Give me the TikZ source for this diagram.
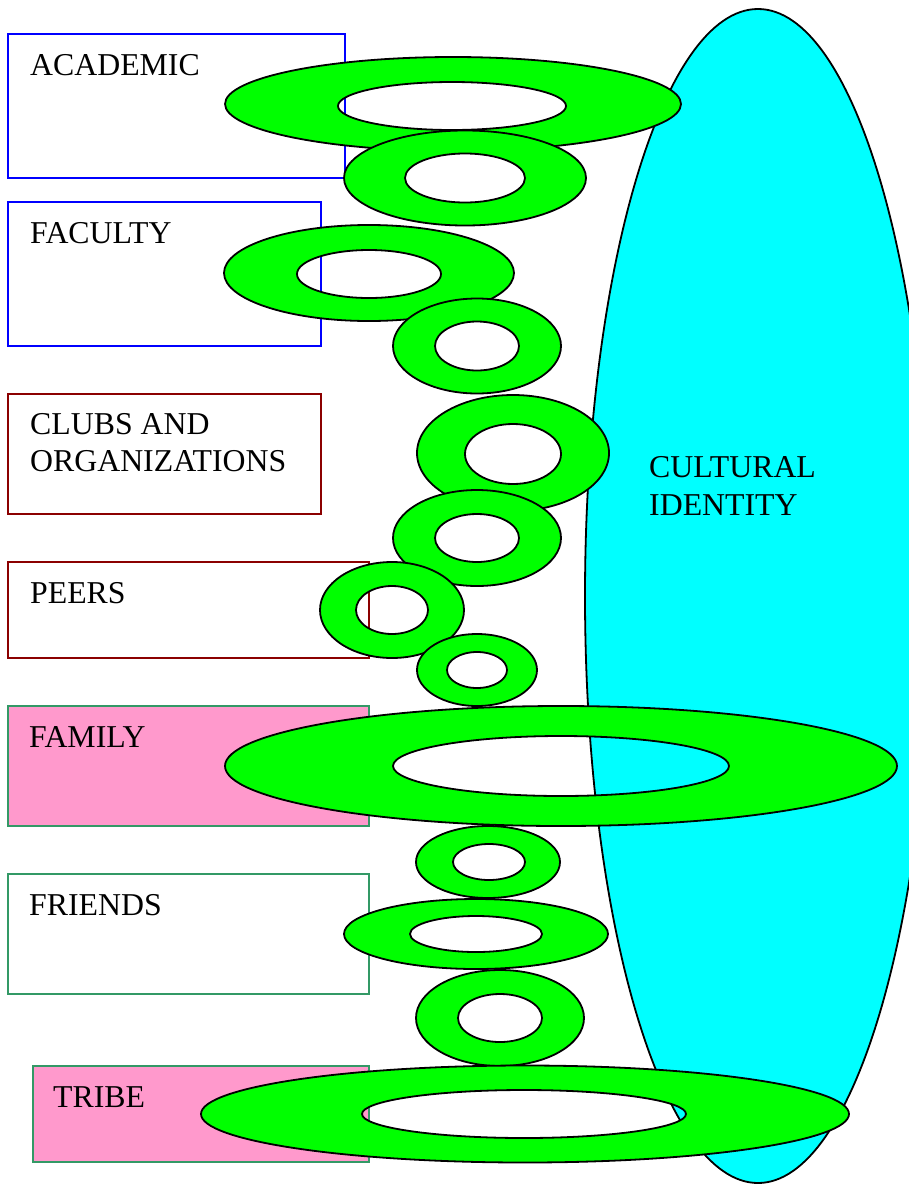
\documentclass[tikz,border=0pt]{standalone}
\usepackage{fontspec}
\setmainfont{Liberation Serif}
\definecolor{boxblue}{RGB}{0,0,255}
\definecolor{boxred}{RGB}{139,0,0}
\definecolor{boxgreen}{RGB}{51,153,102}
\definecolor{boxpink}{RGB}{255,153,204}
\definecolor{ringgreen}{RGB}{0,255,0}
\definecolor{identcyan}{RGB}{0,255,255}
\tikzset{
  box/.style={rectangle, draw, line width=2pt, inner sep=0pt},
  lbl/.style={anchor=base west, inner sep=0pt, font=\fontsize{31.8}{37}\selectfont},
  ring/.style={draw=black, line width=1.8pt, fill=ringgreen, even odd rule},
}
\begin{document}
\begin{tikzpicture}[x=1pt,y=-1pt]
\useasboundingbox (0,0) rectangle (909,1184);
\clip (0,0) rectangle (909,1184);
% boxes
\node[box, draw=boxblue, minimum width=337pt, minimum height=144pt] (academic) at (176.5,106) {};
\node[box, draw=boxblue, minimum width=313pt, minimum height=144pt] (faculty) at (164.5,274) {};
\node[box, draw=boxred, minimum width=313pt, minimum height=120pt] (clubs) at (164.5,454) {};
\node[box, draw=boxred, minimum width=361pt, minimum height=96pt] (peers) at (188.5,610) {};
\node[box, draw=boxgreen, fill=boxpink, minimum width=361pt, minimum height=120pt] (family) at (188.5,766) {};
\node[box, draw=boxgreen, minimum width=361pt, minimum height=120pt] (friends) at (188.5,934) {};
\node[box, draw=boxgreen, fill=boxpink, minimum width=336pt, minimum height=96pt] (tribe) at (201,1114) {};
% labels
\node[lbl] (tacademic) at (30,75) {ACADEMIC};
\node[lbl] (tfaculty) at (30,243) {FACULTY};
\node[lbl] (tclubs1) at (30,434) {CLUBS AND};
\node[lbl] (tclubs2) at (30,471) {ORGANIZATIONS};
\node[lbl] (tpeers) at (30,603) {PEERS};
\node[lbl] (tfamily) at (29,747) {FAMILY};
\node[lbl] (tfriends) at (29,915) {FRIENDS};
\node[lbl] (ttribe) at (53,1107) {TRIBE};
% cultural identity
\path[draw=black, line width=1.8pt, fill=identcyan] (758,596) ellipse (173 and 587);
\node[lbl] (tcult1) at (649,477) {CULTURAL};
\node[lbl] (tcult2) at (649,515) {IDENTITY};
% rings
\path[ring] (453,104) ellipse (228 and 47) (452,106) ellipse (114 and 24);
\path[ring] (465,178) ellipse (121 and 47.5) (465,178) ellipse (60 and 24.5);
\path[ring] (369,273) ellipse (145 and 48) (369,274) ellipse (72 and 24);
\path[ring] (477,346) ellipse (84 and 47.5) (477,346) ellipse (42 and 24.5);
\path[ring] (513,453) ellipse (96 and 58) (513,454) ellipse (48 and 30);
\path[ring] (477,538) ellipse (84 and 48) (477,538) ellipse (42 and 24);
\path[ring] (392,610) ellipse (72 and 48) (392,610) ellipse (36 and 24);
\path[ring] (477,670) ellipse (60 and 36) (477,670) ellipse (30 and 18);
\path[ring] (561,766) ellipse (336 and 60) (561,766) ellipse (168 and 30);
\path[ring] (488,862) ellipse (72 and 36) (489,862) ellipse (36 and 18);
\path[ring] (476,934) ellipse (132 and 35) (476,934) ellipse (66 and 18);
\path[ring] (500,1018) ellipse (84 and 48) (500,1018) ellipse (42 and 24);
\path[ring] (525,1114) ellipse (324 and 48.5) (524,1114) ellipse (162 and 24);
\end{tikzpicture}
\end{document}
